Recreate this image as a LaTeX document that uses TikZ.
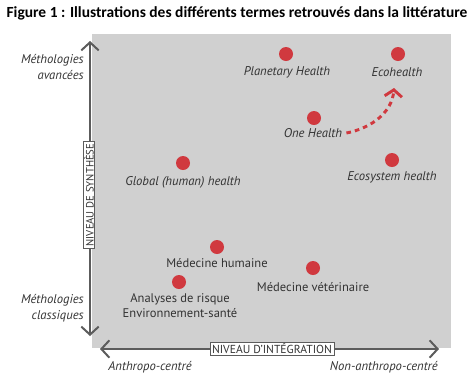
\documentclass[tikz,border=0pt]{standalone}
\usepackage{fontspec}
\setmainfont{PT Sans}
\newfontfamily\titlefont{Carlito}
\usetikzlibrary{arrows.meta}
\definecolor{bggray}{HTML}{D0D0D0}
\definecolor{dotred}{HTML}{D0393F}
\definecolor{axisgray}{HTML}{5C5C5C}
\definecolor{txtgray}{HTML}{333333}

\begin{document}
\begin{tikzpicture}[x=0.75pt, y=-0.75pt,
    dot/.style = {circle, fill=dotred, minimum size=10.5pt, inner sep=0pt},
    lbl/.style = {font=\fontsize{9.5}{11}\selectfont\itshape, text=txtgray, inner sep=0pt},
    plain/.style = {font=\fontsize{9.4}{11.2}\selectfont, text=txtgray, inner sep=0pt, align=center},
    axis/.style = {draw=axisgray, line width=1.5pt, {Straight Barb[length=6pt, width=13pt]}-{Straight Barb[length=6pt, width=13pt]}},
    axisbox/.style = {draw=axisgray, fill=white, line width=0.5pt, font=\fontsize{8.7}{9}\selectfont, text=txtgray, inner xsep=1.5pt, inner ysep=1pt, minimum height=9.8pt},
    side/.style = {font=\fontsize{9.5}{12.2}\selectfont\itshape, text=txtgray, inner sep=0pt, align=right}]
\useasboundingbox (0,0) rectangle (474,383);
\node[font=\titlefont\bfseries\fontsize{11.6}{13}\selectfont, inner sep=0pt] (title) at (237,13) {Figure 1 : Illustrations des différents termes retrouvés dans la littérature};
\fill[bggray] (92,34) rectangle (451,348);

% axes
\coordinate (ytop) at (90,41);
\coordinate (ybot) at (90,336);
\coordinate (xleft) at (100,349);
\coordinate (xright) at (439,349);
\draw[axis] (ybot) -- (ytop);
\draw[axis] (xleft) -- (xright);
\node[axisbox, rotate=90, font=\fontsize{8}{8.5}\selectfont, minimum height=8.5pt, inner ysep=0.6pt] (ysyn) at (89,195) {NIVEAU DE SYNTHÈSE};
\node[axisbox] (xint) at (272,349) {NIVEAU D'INTÉGRATION};

\node[side, anchor=east] (avance) at (84,67) {Méthologies\\avancées};
\node[side, anchor=east] (classe) at (84,308) {Méthologies\\classiques};
\node[side] (anthro) at (150,367) {Anthropo-centré};
\node[side, anchor=east] (nonanthro) at (438,367) {Non-anthropo-centré};

% terms
\node[dot] (ph) at (286,54) {};
\node[lbl] (phl) at (287,72) {Planetary Health};
\node[dot] (eco) at (398,54) {};
\node[lbl] (ecol) at (397,72) {Ecohealth};
\node[dot] (oh) at (314,118) {};
\node[lbl] (ohl) at (313,133) {One Health};
\node[dot] (es) at (392,160) {};
\node[lbl] (esl) at (392,177) {Ecosystem health};
\node[dot] (gh) at (183,163) {};
\node[lbl] (ghl) at (183,182) {Global (human) health};
\node[dot] (mh) at (217,247) {};
\node[plain] (mhl) at (217,263) {Médecine humaine};
\node[dot] (mv) at (313,268) {};
\node[plain] (mvl) at (313,287) {Médecine vétérinaire};
\node[dot] (ar) at (179,282) {};
\node[plain] (arl) at (180,306) {Analyses de risque\\Environnement-santé};

\draw[dotred, line width=2.2pt, dash pattern=on 3.5pt off 3pt,
      -{Straight Barb[length=5pt, width=13pt]}]
      (ohl.east) ++(3pt,0) .. controls (372,128) and (392,112) .. (394,88);
\end{tikzpicture}
\end{document}
